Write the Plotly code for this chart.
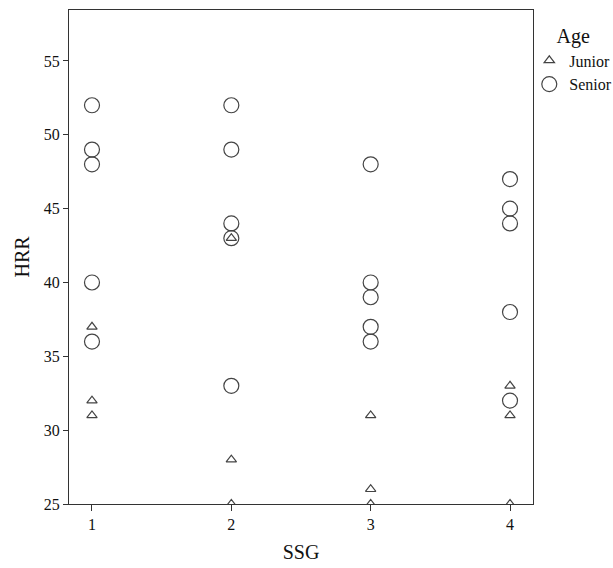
import plotly.graph_objects as go

ssg_senior = [1, 1, 1, 1, 1, 2, 2, 2, 2, 2, 3, 3, 3, 3, 3, 4, 4, 4, 4, 4]
hrr_senior = [52, 49, 48, 40, 36, 52, 49, 44, 43, 33, 48, 40, 39, 37, 36, 47, 45, 44, 38, 32]
ssg_junior = [1, 1, 1, 2, 2, 2, 3, 3, 3, 4, 4, 4]
hrr_junior = [37, 32, 31, 43, 28, 25, 31, 26, 25, 33, 31, 25]

font_family = "Liberation Serif"
mark_color = "#444444"

fig = go.Figure()
fig.add_trace(go.Scatter(
    x=ssg_junior, y=hrr_junior, mode="markers", name="Junior",
    marker=dict(symbol="triangle-up-open", size=9, color=mark_color,
                line=dict(width=1.2, color=mark_color)),
))
fig.add_trace(go.Scatter(
    x=ssg_senior, y=hrr_senior, mode="markers", name="Senior",
    marker=dict(symbol="circle-open", size=15, color=mark_color,
                line=dict(width=1.2, color=mark_color)),
))

fig.update_layout(
    width=613, height=568,
    margin=dict(l=69, r=80, t=10, b=64, autoexpand=False),
    paper_bgcolor="white", plot_bgcolor="white",
    font=dict(family=font_family, color="#111", size=16),
    showlegend=True,
    legend=dict(
        x=0.992, y=0.985, xanchor="left", yanchor="top",
        title=dict(text="Age", font=dict(size=20), side="top center"),
        font=dict(size=16), itemwidth=30, tracegroupgap=0,
        bgcolor="rgba(0,0,0,0)",
    ),
    xaxis=dict(
        title=dict(text="SSG", font=dict(size=20), standoff=12),
        range=[0.835, 4.165], tickmode="array", tickvals=[1, 2, 3, 4],
        ticks="outside", ticklen=6, tickcolor="#333",
        showline=True, linecolor="#333", linewidth=1, mirror=True,
        showgrid=False, zeroline=False, tickfont=dict(size=16),
    ),
    yaxis=dict(
        title=dict(text="HRR", font=dict(size=20), standoff=8),
        range=[25, 58.45], tickmode="array", tickvals=[25, 30, 35, 40, 45, 50, 55],
        ticks="outside", ticklen=5, tickcolor="#333",
        showline=True, linecolor="#333", linewidth=1, mirror=True,
        showgrid=False, zeroline=False, tickfont=dict(size=16),
    ),
)

fig.write_html("out.html")
